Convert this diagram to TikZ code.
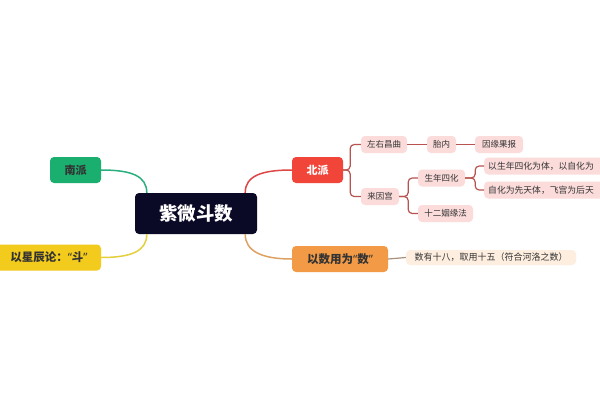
\documentclass[tikz,border=0pt]{standalone}
\usepackage{fontspec}
\setmainfont{Noto Sans CJK SC}
\newfontfamily\latq{Noto Sans}
\usetikzlibrary{calc}
\definecolor{cbg}{HTML}{0B0A26}
\definecolor{cgreen}{HTML}{1AAE6F}
\definecolor{cyellow}{HTML}{F2CB1D}
\definecolor{cred}{HTML}{F2453A}
\definecolor{corange}{HTML}{F39A46}
\definecolor{cpink}{HTML}{FBDCDB}
\definecolor{cpeach}{HTML}{FDEEE0}
\definecolor{lgreen}{HTML}{2AAE7E}
\definecolor{lyellow}{HTML}{E6CF3C}
\definecolor{lred}{HTML}{DE4646}
\definecolor{lorange}{HTML}{DDA263}
\definecolor{lsub}{HTML}{B8544F}
\definecolor{lsubo}{HTML}{A8907C}
\definecolor{tdark}{HTML}{333333}
\begin{document}
\begin{tikzpicture}[x=1pt,y=-1pt,
  box/.style={rounded corners=4pt,inner sep=0pt,align=center},
  topbox/.style={box,minimum height=26pt,font=\fontsize{11}{13}\selectfont\bfseries},
  subbox/.style={box,fill=cpink,minimum height=17pt,text=tdark,font=\fontsize{8.5}{10}\selectfont},
  longbox/.style={subbox,anchor=west,text width=132pt,align=left,inner xsep=4pt,font=\fontsize{8.8}{10}\selectfont},
  cline/.style={line width=1.5pt},
  sline/.style={line width=1.2pt,lsub,rounded corners=4pt}]
\useasboundingbox (0,0) rectangle (600,400);
\clip (0,0) rectangle (600,400);
\fill[white] (0,0) rectangle (600,400);
% central
\node[box,fill=cbg,text=white,minimum width=122pt,minimum height=41pt,font=\fontsize{18.5}{20}\selectfont\bfseries] (c) at (196,213.5) {紫微斗数};
% top-level
\node[topbox,fill=cgreen,text=tdark,minimum width=51pt] (np) at (75.5,170) {南派};
\node[topbox,fill=cyellow,text=tdark,minimum width=106pt,font=\fontsize{11.5}{13}\selectfont\bfseries] (xc) at (48,257.5) {\hspace*{2pt}以星辰论：{\latq\bfseries “}斗{\latq\bfseries ”}};
\node[topbox,fill=cred,text=white,minimum width=51pt] (bp) at (317.5,170) {北派};
\node[topbox,fill=corange,text=tdark,minimum width=96pt,font=\fontsize{11.5}{13}\selectfont\bfseries] (ys) at (340,259) {以数用为{\latq\bfseries “}数{\latq\bfseries ”}};
% sub nodes
\node[subbox,minimum width=46pt] (zy) at (384,144.5) {左右昌曲};
\node[subbox,minimum width=29pt] (tn) at (441.5,144.5) {胎内};
\node[subbox,minimum width=48pt] (yy) at (499,144.5) {因缘果报};
\node[subbox,minimum width=38pt] (lg) at (380,196.5) {来因宫};
\node[subbox,minimum width=47pt] (sn) at (441.5,178) {生年四化};
\node[subbox,minimum width=55pt] (se) at (445.5,213.5) {十二姻缘法};
\node[longbox] (t1) at (484,166) {以生年四化为体，以自化为};
\node[longbox] (t2) at (484,190) {自化为先天体，飞宫为后天};
\node[subbox,fill=cpeach,minimum width=170pt,minimum height=15pt,font=\fontsize{9}{10}\selectfont] (ds) at (491,257.5) {数有十八，取用十五（符合河洛之数）};
% main connectors
\draw[cline,lred] ($(c.north east)+(-12,0)$) .. controls ($(c.north east)+(-12,-17)$) and ($(bp.west)+(-30,0)$) .. (bp.west);
\draw[cline,lorange] ($(c.south east)+(-12,0)$) .. controls ($(c.south east)+(-12,17)$) and ($(ys.west)+(-30,0)$) .. (ys.west);
\draw[cline,lgreen] (np.east) .. controls ($(np.east)+(30,0)$) and ($(c.north west)+(12,-17)$) .. ($(c.north west)+(12,0)$);
\draw[cline,lyellow] (xc.east) .. controls ($(xc.east)+(30,0)$) and ($(c.south west)+(12,17)$) .. ($(c.south west)+(12,0)$);
% sub connectors
\draw[sline] (bp.east) -- ++(7,0) |- (zy.west);
\draw[sline] (bp.east) -- ++(7,0) |- (lg.west);
\draw[sline] (zy.east) -- (tn.west);
\draw[sline] (tn.east) -- (yy.west);
\draw[sline] (lg.east) -- ++(9,0) |- (sn.west);
\draw[sline] (lg.east) -- ++(9,0) |- (se.west);
\draw[sline] (sn.east) -- ++(10,0) |- (t1.west);
\draw[sline] (sn.east) -- ++(10,0) |- (t2.west);
\draw[line width=1.2pt,lsubo] (ys.east) -- (ds.west);
\end{tikzpicture}
\end{document}
